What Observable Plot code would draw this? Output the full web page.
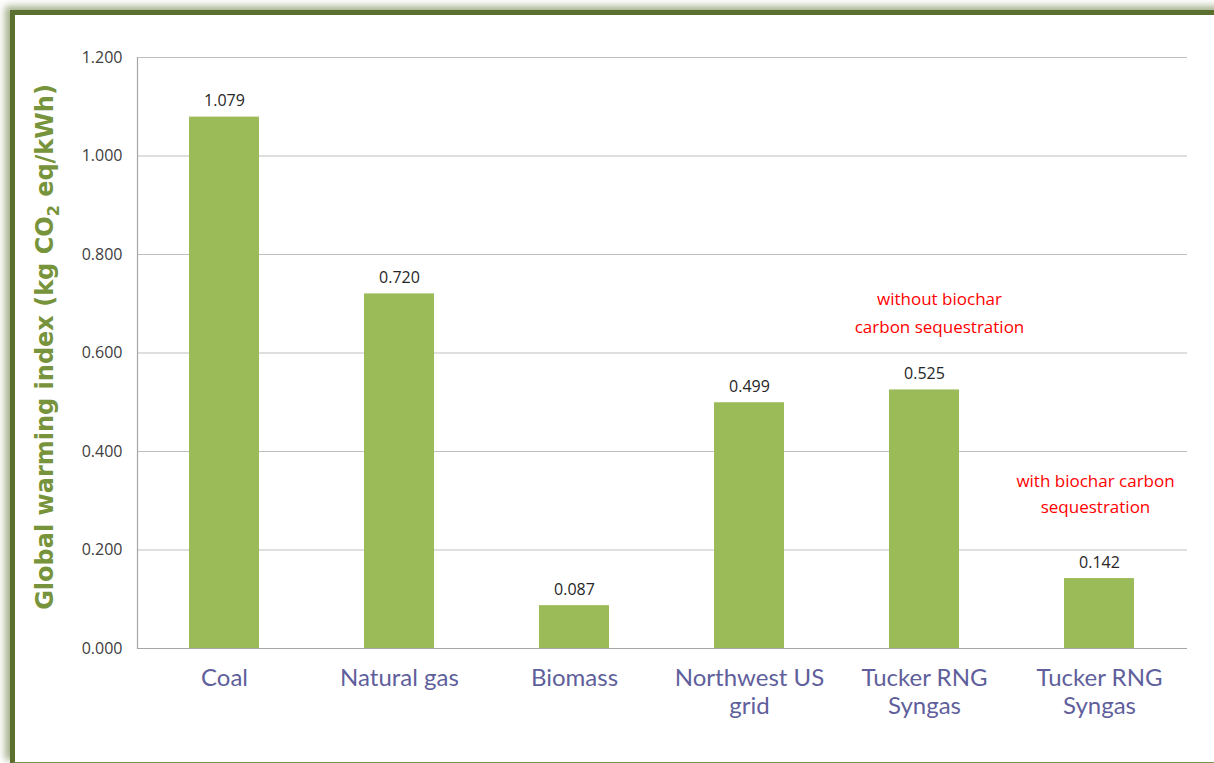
<!DOCTYPE html>
<html>
<head>
<meta charset="utf-8">
<script src="https://cdn.jsdelivr.net/npm/d3@7"></script>
<script src="https://cdn.jsdelivr.net/npm/@observablehq/plot@0.6"></script>
<style>
  html, body { margin: 0; padding: 0; background: #fff; }
  #wrap { position: relative; width: 1214px; height: 763px; overflow: hidden; background: #fff; }
  #frame { position: absolute; left: 10px; top: 10px; width: 1240px; height: 747px;
           border-top: 5px solid #5b6f2f; border-left: 5px solid #5b6f2f; border-bottom: 2px solid #7d9150;
           box-shadow: -5px -4px 7px rgba(95,115,50,0.55); pointer-events: none; z-index: 2; }
  #chart { position: absolute; left: 0; top: 0; z-index: 1; }
</style>
</head>
<body>
<div id="wrap"><div id="chart"></div><div id="frame"></div></div>
<script>
const categories = ["Coal", "Natural gas", "Biomass", "Northwest US grid", "Tucker RNG Syngas (without biochar)", "Tucker RNG Syngas (with biochar)"];
const xLabels = ["Coal", "Natural gas", "Biomass", "Northwest US\ngrid", "Tucker RNG\nSyngas", "Tucker RNG\nSyngas"];
const values = [1.079, 0.720, 0.087, 0.499, 0.525, 0.142];
const yTicks = [0, 0.2, 0.4, 0.6, 0.8, 1.0, 1.2];
const annCategories = ["Tucker RNG Syngas (without biochar)", "Tucker RNG Syngas (with biochar)"];
const annY = [0.688, 0.318];
const annText = ["without biochar\ncarbon sequestration", "with biochar carbon\nsequestration"];

const data = categories.map((c, i) => ({category: c, value: values[i]}));
const ann = annCategories.map((c, i) => ({category: c, y: annY[i], text: annText[i]}));
const fmt = d3.format(".3f");

const plot = Plot.plot({
  width: 1214,
  height: 763,
  marginLeft: 137,
  marginRight: 27,
  marginTop: 57,
  marginBottom: 115,
  style: {background: "transparent", overflow: "visible"},
  x: {domain: categories, paddingInner: 0.6, paddingOuter: 0.3, label: null},
  y: {domain: [0, 1.2], label: null},
  marks: [
    Plot.gridY(yTicks, {stroke: "#bfbfbf", strokeOpacity: 1}),
    Plot.barY(data, {x: "category", y: "value", fill: "#9bbb59"}),
    Plot.ruleY([0], {stroke: "#a6a6a6", strokeWidth: 1.2}),
    Plot.frame({anchor: "left", stroke: "#a6a6a6", strokeWidth: 1.2}),
    Plot.axisY({ticks: yTicks, tickFormat: fmt, tickSize: 0, tickPadding: 15, fontSize: 16, fontFamily: "Open Sans", color: "#404040", label: null}),
    Plot.axisX({tickSize: 0, tickPadding: 18, tickFormat: d => xLabels[categories.indexOf(d)], fontSize: 24, fontFamily: "Lato", color: "#5f5f9c", lineHeight: 1.15, label: null}),
    Plot.text(data, {x: "category", y: "value", text: d => fmt(d.value), lineAnchor: "bottom", dy: -11, fontSize: 16, fontFamily: "Open Sans", fill: "#262626"}),
    Plot.text([ann[0]], {x: "category", y: "y", text: "text", dx: 15, lineAnchor: "middle", lineHeight: 1.65, fontSize: 17, fontFamily: "Open Sans", fill: "#ff0000"}),
    Plot.text([ann[1]], {x: "category", y: "y", text: "text", dx: -4, lineAnchor: "middle", lineHeight: 1.5, fontSize: 17, fontFamily: "Open Sans", fill: "#ff0000"})
  ]
});
document.getElementById("chart").appendChild(plot);

// Y-axis title with a true subscript
const svg = d3.select(plot);
const title = svg.append("text")
  .attr("transform", `translate(53, 347) rotate(-90)`)
  .attr("text-anchor", "middle")
  .attr("font-family", "DejaVu Sans")
  .attr("font-weight", "bold")
  .attr("font-size", 24)
  .attr("fill", "#77933c");
title.append("tspan").text("Global warming index (kg CO");
title.append("tspan").attr("font-size", 16).attr("dy", 6).text("2");
title.append("tspan").attr("dy", -6).text(" eq/kWh)");
</script>
</body>
</html>
